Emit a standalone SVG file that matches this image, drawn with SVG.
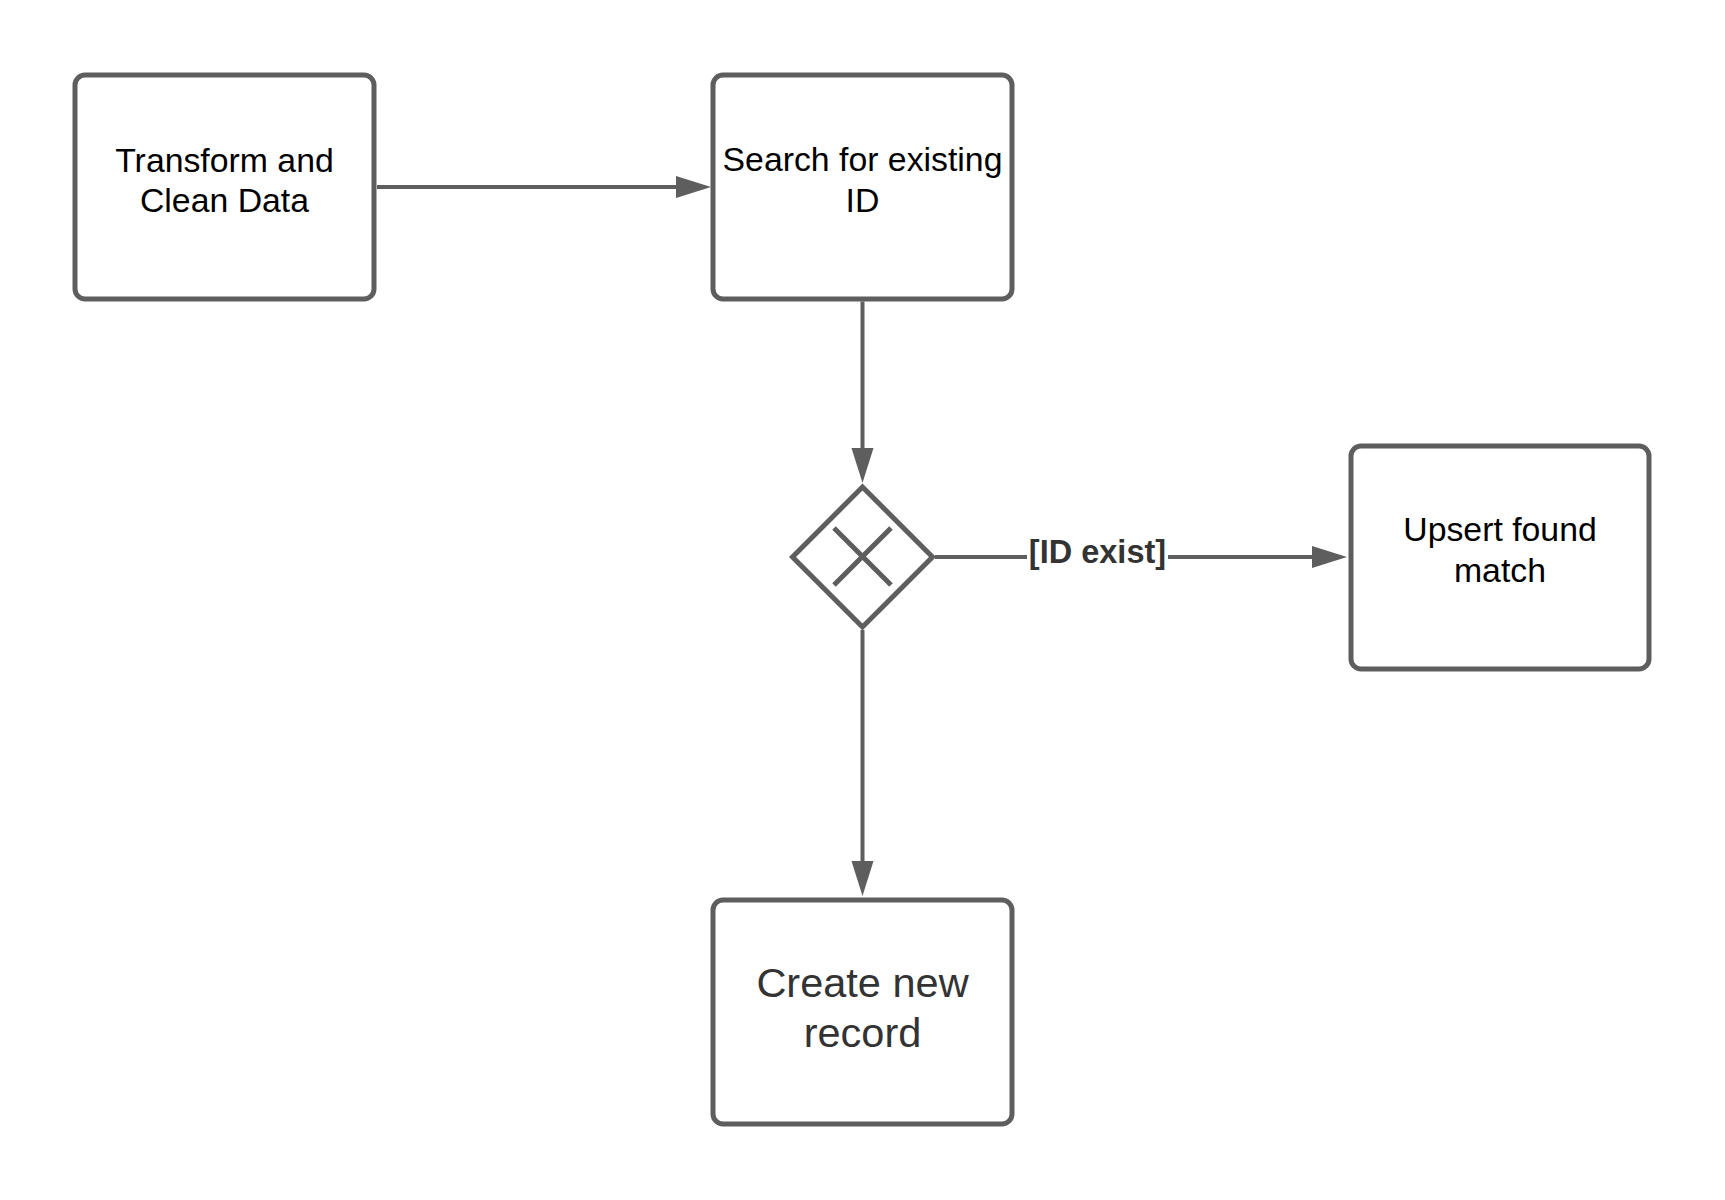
<svg xmlns="http://www.w3.org/2000/svg" width="1725" height="1200" viewBox="0 0 1725 1200">
  <style>
    .box { fill: #ffffff; stroke: #5e5e5e; stroke-width: 5; }
    .conn { stroke: #5e5e5e; stroke-width: 4; fill: none; }
    .t { font-family: "Liberation Sans", Arial, sans-serif; font-size: 33.8px; fill: #000000; text-anchor: middle; }
    .t2 { font-family: "Liberation Sans", Arial, sans-serif; font-size: 41.5px; fill: #333333; text-anchor: middle; }
    .lbl { font-family: "Liberation Sans", Arial, sans-serif; font-size: 32.5px; font-weight: bold; fill: #333333; text-anchor: middle; }
  </style>
  <defs>
    <marker id="arrow" markerUnits="userSpaceOnUse" markerWidth="36" markerHeight="24" refX="5" refY="11" orient="auto">
      <path d="M0,0 L35,11 L0,22 z" fill="#5e5e5e"/>
    </marker>
  </defs>
  <rect width="1725" height="1200" fill="#ffffff"/>

  <g id="connectors">
    <line class="conn" x1="377" y1="187" x2="681" y2="187" marker-end="url(#arrow)"/>
    <line class="conn" x1="862.5" y1="301.5" x2="862.5" y2="453" marker-end="url(#arrow)"/>
    <line class="conn" x1="935" y1="557" x2="1317" y2="557" marker-end="url(#arrow)"/>
    <line class="conn" x1="862.5" y1="630" x2="862.5" y2="866" marker-end="url(#arrow)"/>
    <g id="label-id-exist">
      <rect x="1027" y="537" width="141" height="40" fill="#ffffff"/>
      <text class="lbl" x="1097.5" y="563">[ID exist]</text>
    </g>
  </g>

  <g id="transform">
    <rect class="box" x="75" y="75" width="299" height="224" rx="10"/>
    <text class="t" x="224.5" y="172">Transform and</text>
    <text class="t" x="224.5" y="212">Clean Data</text>
  </g>

  <g id="search">
    <rect class="box" x="713" y="75" width="299" height="224" rx="10"/>
    <text class="t" x="862.5" y="171">Search for existing</text>
    <text class="t" x="862.5" y="212">ID</text>
  </g>

  <g id="gateway">
    <path class="box" d="M862.5,487 L932.5,557 L862.5,627 L792.5,557 z"/>
    <path d="M834,528 L891,585 M891,528 L834,585" stroke="#5e5e5e" stroke-width="5" fill="none"/>
  </g>

  <g id="upsert">
    <rect class="box" x="1351" y="446" width="298" height="223" rx="10"/>
    <text class="t" x="1500" y="541">Upsert found</text>
    <text class="t" x="1500" y="582">match</text>
  </g>

  <g id="create">
    <rect class="box" x="713" y="900" width="299" height="224" rx="10"/>
    <text class="t2" x="862.5" y="997">Create new</text>
    <text class="t2" x="862.5" y="1047">record</text>
  </g>
</svg>
